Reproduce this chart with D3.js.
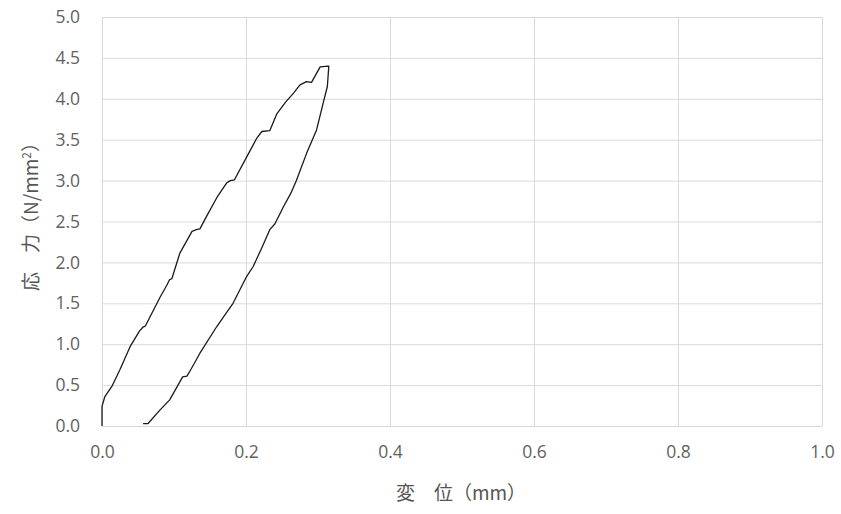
<!DOCTYPE html>
<html>
  <head>
    <meta charset="utf-8" />
    <title>応力-変位</title>
    <script src="https://d3js.org/d3.v7.min.js"></script>
    <style>
      body { margin: 0; background: #fff; }
      .tick text { font-family: "Open Sans", "Noto Sans", sans-serif; font-size: 17.5px; fill: #626262; }
      .title { font-family: "Noto Sans CJK JP", sans-serif; font-size: 19px; fill: #555; }
    </style>
  </head>
  <body>
    <svg id="chart"></svg>
    <script>
      // tick values
      var xTicks = [0, 0.2, 0.4, 0.6, 0.8, 1.0];
      var yTicks = [0, 0.5, 1.0, 1.5, 2.0, 2.5, 3.0, 3.5, 4.0, 4.5, 5.0];

      // displacement (mm) and stress (N/mm2), loading then unloading
      var disp = [0, 0, 0.004, 0.0135, 0.025, 0.039, 0.052, 0.057, 0.060, 0.081, 0.090, 0.094, 0.097,
        0.108, 0.125, 0.131, 0.136, 0.145, 0.160, 0.173, 0.178, 0.184, 0.201, 0.215, 0.222, 0.233,
        0.243, 0.255, 0.266, 0.275, 0.284, 0.291, 0.303, 0.314,
        0.315, 0.313, 0.307, 0.298, 0.284, 0.270, 0.262, 0.252, 0.240, 0.233, 0.222, 0.210, 0.201,
        0.182, 0.170, 0.159, 0.136, 0.124, 0.118, 0.112, 0.094, 0.081, 0.064, 0.057];
      var stress = [0, 0.24, 0.36, 0.48, 0.69, 0.97, 1.16, 1.21, 1.22, 1.58, 1.72, 1.79, 1.80,
        2.11, 2.38, 2.40, 2.41, 2.56, 2.80, 2.97, 3.00, 3.01, 3.29, 3.52, 3.60, 3.61,
        3.82, 3.96, 4.07, 4.17, 4.21, 4.20, 4.39, 4.40,
        4.40, 4.15, 3.94, 3.62, 3.33, 3.00, 2.84, 2.68, 2.47, 2.40, 2.18, 1.95, 1.83,
        1.50, 1.35, 1.21, 0.89, 0.70, 0.61, 0.60, 0.32, 0.20, 0.03, 0.03];

      var width = 841, height = 514;
      var margin = {top: 17, right: 19, bottom: 88, left: 102};

      var svg = d3.select("#chart").attr("width", width).attr("height", height);

      var x = d3.scaleLinear().domain([0, 1]).range([margin.left, width - margin.right]);
      var y = d3.scaleLinear().domain([0, 5]).range([height - margin.bottom, margin.top]);

      // grid
      svg.append("g").selectAll("line").data(yTicks).join("line")
        .attr("x1", x(0)).attr("x2", x(1))
        .attr("y1", function(d) { return y(d) + 0.5; }).attr("y2", function(d) { return y(d) + 0.5; })
        .attr("stroke", "#d9d9d9");
      svg.append("g").selectAll("line").data(xTicks).join("line")
        .attr("x1", function(d) { return x(d) + 0.5; }).attr("x2", function(d) { return x(d) + 0.5; })
        .attr("y1", y(0)).attr("y2", y(5))
        .attr("stroke", "#d9d9d9");

      // axes
      var yAxis = d3.axisLeft(y).tickValues(yTicks).tickFormat(d3.format(".1f")).tickSize(0).tickPadding(22);
      svg.append("g").attr("transform", "translate(" + x(0) + ",0)").call(yAxis)
        .call(function(g) { g.select(".domain").remove(); });

      var xAxis = d3.axisBottom(x).tickValues(xTicks).tickFormat(d3.format(".1f")).tickSize(0).tickPadding(20);
      svg.append("g").attr("transform", "translate(0," + y(0) + ")").call(xAxis)
        .call(function(g) { g.select(".domain").remove(); });

      // curve
      var pts = d3.zip(disp, stress);
      svg.append("path").datum(pts)
        .attr("d", d3.line().x(function(d) { return x(d[0]); }).y(function(d) { return y(d[1]); }))
        .attr("fill", "none").attr("stroke", "#1a1a1a").attr("stroke-width", 1.3)
        .attr("stroke-linejoin", "round");

      // titles
      svg.append("text").attr("class", "title")
        .attr("x", 461).attr("y", 500).attr("text-anchor", "middle")
        .text("変\u3000位（mm）");
      svg.append("text").attr("class", "title")
        .attr("transform", "translate(38,212) rotate(-90)")
        .attr("text-anchor", "middle")
        .html("応\u3000力（N/mm<tspan dy='-7' font-size='12'>2</tspan><tspan dy='7'>）</tspan>");
    </script>
  </body>
</html>
